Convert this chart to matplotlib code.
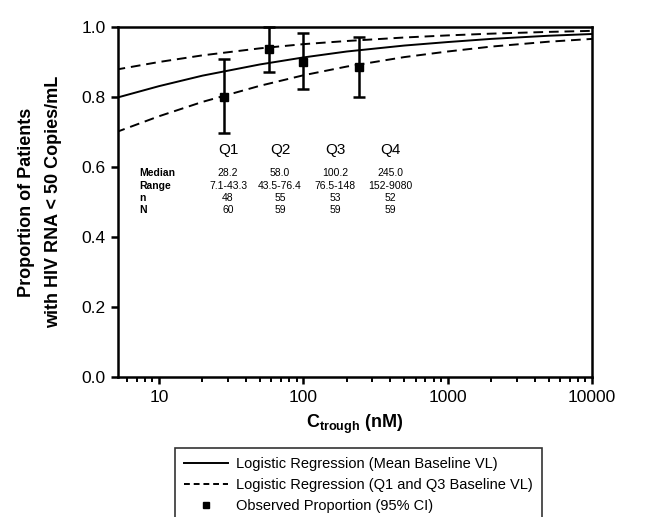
import numpy as np
import matplotlib
matplotlib.use('Agg')
import matplotlib.pyplot as plt
from matplotlib.ticker import FixedLocator, NullFormatter, FixedFormatter
from matplotlib.lines import Line2D

plt.rcParams['font.family'] = ['Liberation Sans', 'DejaVu Sans']
plt.rcParams['mathtext.fontset'] = 'custom'
plt.rcParams['mathtext.rm'] = 'Liberation Sans'
plt.rcParams['mathtext.bf'] = 'Liberation Sans:bold'

# curve values
conc = [5, 10, 20, 50, 100, 200, 500, 1000, 2000, 5000, 10000]
mean_curve = [0.797, 0.831, 0.861, 0.893, 0.913, 0.930, 0.947, 0.957, 0.966, 0.975, 0.980]
q1_curve = [0.699, 0.745, 0.786, 0.832, 0.862, 0.887, 0.914, 0.930, 0.944, 0.958, 0.966]
q3_curve = [0.878, 0.900, 0.919, 0.939, 0.951, 0.960, 0.970, 0.976, 0.981, 0.986, 0.989]

# observed proportions by quartile
quart_labels = ['Q1', 'Q2', 'Q3', 'Q4']
medians = [28.2, 58.0, 100.2, 245.0]
obs = [0.80, 0.937, 0.90, 0.886]
ci_low = [0.697, 0.871, 0.823, 0.80]
ci_high = [0.909, 1.0, 0.983, 0.971]

median_txt = ['28.2', '58.0', '100.2', '245.0']
range_txt = ['7.1-43.3', '43.5-76.4', '76.5-148', '152-9080']
n_txt = ['48', '55', '53', '52']
N_txt = ['60', '59', '59', '59']

W, H = 655, 517
fig = plt.figure(figsize=(W / 100, H / 100), dpi=100)
ax = fig.add_axes([118 / W, (H - 377) / H, 474 / W, 350 / H])

ax.plot(conc, mean_curve, color='black', lw=1.4)
ax.plot(conc, q1_curve, color='black', lw=1.4, ls=(0, (5, 3)))
ax.plot(conc, q3_curve, color='black', lw=1.4, ls=(0, (5, 3)))

yerr = [np.array(obs) - np.array(ci_low), np.array(ci_high) - np.array(obs)]
ax.errorbar(medians, obs, yerr=yerr, fmt='s', color='black', ms=6,
            elinewidth=1.8, capsize=4, capthick=1.8, clip_on=False, zorder=5)

ax.set_xscale('log')
ax.set_xlim(5.2, 10000)
ax.set_ylim(0, 1.0)

ax.xaxis.set_major_locator(FixedLocator([10, 100, 1000, 10000]))
ax.xaxis.set_major_formatter(FixedFormatter(['10', '100', '1000', '10000']))
minors = [m * 10 ** e for e in range(0, 4) for m in range(2, 10)]
ax.xaxis.set_minor_locator(FixedLocator([v for v in minors if 5.2 <= v <= 10000]))
ax.xaxis.set_minor_formatter(NullFormatter())
ax.set_yticks([0.0, 0.2, 0.4, 0.6, 0.8, 1.0])
ax.set_yticklabels(['0.0', '0.2', '0.4', '0.6', '0.8', '1.0'])

ax.tick_params(axis='both', which='major', direction='out', length=5, width=1.8,
               labelsize=12.5, pad=4)
ax.tick_params(axis='x', which='minor', direction='out', length=3.5, width=1.4)
for s in ax.spines.values():
    s.set_linewidth(1.8)

ax.set_xlabel(r'$\mathbf{C_{trough}}$ (nM)', fontsize=13, fontweight='bold', labelpad=6)
ax.set_ylabel('Proportion of Patients\nwith HIV RNA < 50 Copies/mL', fontsize=13,
              fontweight='bold', labelpad=14, linespacing=1.75)

# quartile table
def fx(px):
    return px / W

def fy(py):
    return 1 - py / H

col_x = [228, 280, 335, 390]
for i in range(4):
    fig.text(fx(col_x[i]), fy(150), quart_labels[i], ha='center', va='center', fontsize=11)
    fig.text(fx(col_x[i]), fy(173), median_txt[i], ha='center', va='center', fontsize=7.5)
    fig.text(fx(col_x[i]), fy(186), range_txt[i], ha='center', va='center', fontsize=7.5)
    fig.text(fx(col_x[i]), fy(198), n_txt[i], ha='center', va='center', fontsize=7.5)
    fig.text(fx(col_x[i]), fy(210), N_txt[i], ha='center', va='center', fontsize=7.5)
for lab, yy in zip(['Median', 'Range', 'n', 'N'], [173, 186, 198, 210]):
    fig.text(fx(139), fy(yy), lab, ha='left', va='center', fontsize=7.5, fontweight='bold')

handles = [
    Line2D([], [], color='black', lw=1.4),
    Line2D([], [], color='black', lw=1.4, ls=(0, (3, 2))),
    Line2D([], [], color='black', lw=0, marker='s', ms=5),
]
labels = ['Logistic Regression (Mean Baseline VL)',
          'Logistic Regression (Q1 and Q3 Baseline VL)',
          'Observed Proportion (95% CI)']
leg = fig.legend(handles, labels, loc='upper left',
                 bbox_to_anchor=(175 / W, 1 - 448 / H), fontsize=10.5,
                 frameon=True, fancybox=False, edgecolor='black',
                 handlelength=3.0, handletextpad=0.6, borderpad=0.6,
                 labelspacing=0.5, borderaxespad=0)
leg.get_frame().set_linewidth(1.2)

fig.savefig('out.png', dpi=100)
